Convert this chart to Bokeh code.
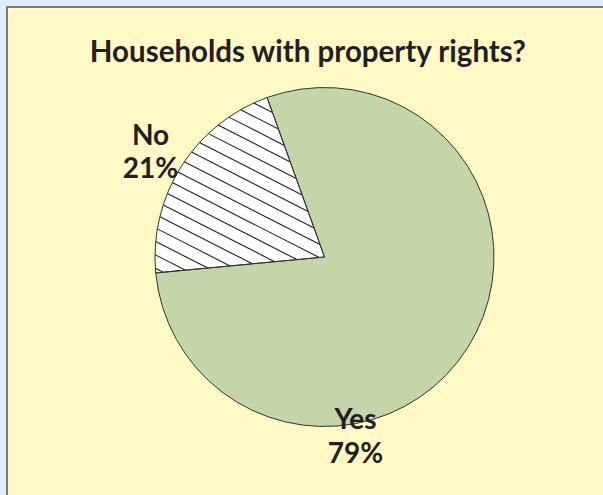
import numpy as np
from bokeh.plotting import figure
from bokeh.models import Range1d, ColumnDataSource
from bokeh.core.properties import value
from bokeh.embed import file_html
from bokeh.resources import INLINE

# ---- data ----
title_text = "Households with property rights?"
categories = ["No", "Yes"]          # counter-clockwise drawing order
shares = [21, 79]                   # percent
label_pct = ["21%", "79%"]

# ---- style ----
W, H = 600, 492
BG = "#fff9c6"
GREEN = "#c5d5aa"
FONT = "Lato"
cx, cy, R = 318, 241.5, 169.5
start_deg = 109.8

p = figure(width=W, height=H, x_range=Range1d(0, W), y_range=Range1d(0, H),
           output_backend="svg", toolbar_location=None, min_border=0)
p.axis.visible = False
p.grid.visible = False
p.background_fill_color = BG
p.border_fill_color = BG
p.outline_line_color = "#7a7a7a"
p.outline_line_width = 3

vals = np.array(shares, dtype=float)
fr = vals / vals.sum()
ends = np.radians(start_deg) + 2 * np.pi * np.cumsum(fr)
starts = np.concatenate([[np.radians(start_deg)], ends[:-1]])
fills = ["white", GREEN]

src = ColumnDataSource(dict(start=starts, end=ends, color=fills, cat=categories))
p.wedge(x=cx, y=cy, radius=R, start_angle="start", end_angle="end",
        fill_color="color", line_color=None, source=src)

# hatch lines for the "No" slice (clipped to the sector)
a0, a1 = starts[0], ends[0]
arc = np.linspace(a0, a1, 80)
poly = [(cx, cy)] + [(cx + R * np.cos(a), cy + R * np.sin(a)) for a in arc] + [(cx, cy)]
ang = np.radians(-27)
d = np.array([np.cos(ang), np.sin(ang)])
n = np.array([-d[1], d[0]])
proj = [n @ np.array(pt) for pt in poly]
xs, ys = [], []
spacing = 12.0
for c in np.arange(min(proj) + 4, max(proj), spacing):
    pts = []
    for i in range(len(poly) - 1):
        p0 = np.array(poly[i]); p1 = np.array(poly[i + 1])
        f0 = n @ p0 - c; f1 = n @ p1 - c
        if f0 == f1:
            continue
        if (f0 <= 0 <= f1) or (f1 <= 0 <= f0):
            t = f0 / (f0 - f1)
            pts.append(p0 + t * (p1 - p0))
    if len(pts) >= 2:
        tt = [d @ q for q in pts]
        qa = pts[int(np.argmin(tt))]; qb = pts[int(np.argmax(tt))]
        xs.append([qa[0], qb[0]]); ys.append([qa[1], qb[1]])
p.multi_line(xs=xs, ys=ys, line_color="#222222", line_width=1.1)

p.wedge(x=cx, y=cy, radius=R, start_angle="start", end_angle="end",
        fill_color=None, line_color="#333333", line_width=1, source=src)

# title
p.text(x=[302], y=[448], text=[title_text], text_font=value(FONT),
       text_font_style="bold", text_font_size="29.5px", text_color="#231f20",
       text_align="center", text_baseline="alphabetic")

# labels
lab_x = [144, 349]
lab_y1 = [365, 81]
lab_y2 = [332, 47]
p.text(x=lab_x, y=lab_y1, text=categories, text_font=value(FONT),
       text_font_style="bold", text_font_size="28px", text_color="#231f20",
       text_align="center", text_baseline="alphabetic")
p.text(x=lab_x, y=lab_y2, text=label_pct, text_font=value(FONT),
       text_font_style="bold", text_font_size="28px", text_color="#231f20",
       text_align="center", text_baseline="alphabetic")

html = None
try:
    from jinja2 import Template
    tmpl = Template("{% extends base %}{% block preamble %}<style>html,body{background:#ddeeff !important;overflow:hidden !important;}body{margin:6px 0 0 6px !important;padding:0 !important;}</style>{% endblock %}")
    html = file_html(p, INLINE, "chart", template=tmpl)
except Exception:
    html = file_html(p, INLINE, "chart")
open("out.html", "w").write(html)
